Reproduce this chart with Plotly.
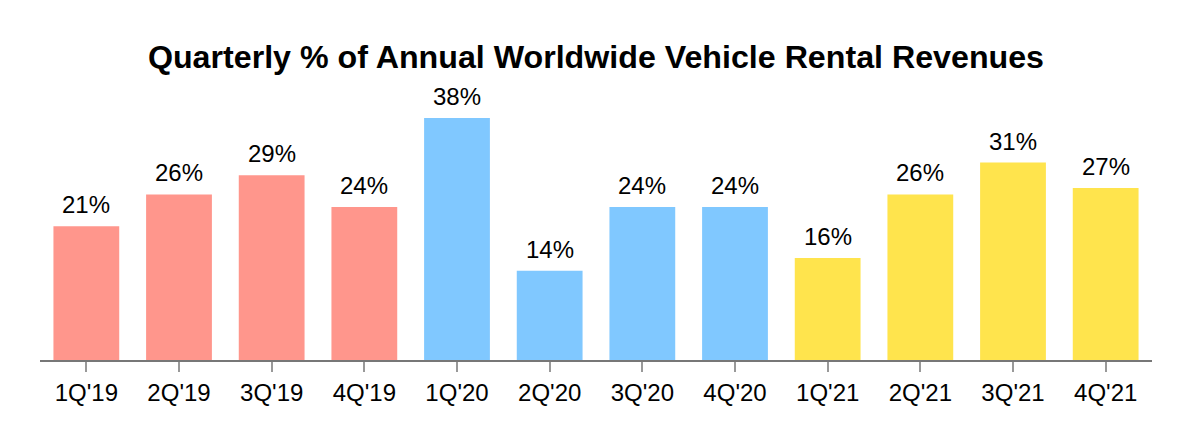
import plotly.graph_objects as go

categories = ["1Q'19", "2Q'19", "3Q'19", "4Q'19", "1Q'20", "2Q'20", "3Q'20", "4Q'20",
              "1Q'21", "2Q'21", "3Q'21", "4Q'21"]
values = [21, 26, 29, 24, 38, 14, 24, 24, 16, 26, 31, 27]
year_of = ["2019"] * 4 + ["2020"] * 4 + ["2021"] * 4
year_colors = {"2019": "#FF968C", "2020": "#80C8FF", "2021": "#FFE44D"}

colors = [year_colors[y] for y in year_of]
labels = [f"{v}%" for v in values]

FONT = "Liberation Sans, Arial"

fig = go.Figure(go.Bar(
    x=categories, y=values, marker=dict(color=colors, line=dict(width=0)),
    hoverinfo="skip",
))
for c, v, t in zip(categories, values, labels):
    fig.add_annotation(x=c, y=v, text=t, showarrow=False, yanchor="bottom",
                       yshift=6, font=dict(family=FONT, size=24, color="#000"))

fig.update_layout(
    width=1184, height=436,
    paper_bgcolor="white", plot_bgcolor="white",
    margin=dict(l=32, r=40, t=87, b=84),
    bargap=0.29,
    showlegend=False,
    title=dict(text="<b>Quarterly % of Annual Worldwide Vehicle Rental Revenues</b>",
               x=0.4966, xanchor="center", y=0.888, yanchor="middle",
               font=dict(family=FONT, size=32.2, color="#000")),
    font=dict(family=FONT, color="#000"),
)
fig.update_xaxes(showline=True, linecolor="#777", linewidth=2, ticks="outside",
                 ticklen=10, tickcolor="#999", tickwidth=1.5,
                 tickfont=dict(size=24, color="#000"), showgrid=False)
fig.update_yaxes(visible=False, range=[0, 41.6], showgrid=False)
fig.write_html("out.html")
